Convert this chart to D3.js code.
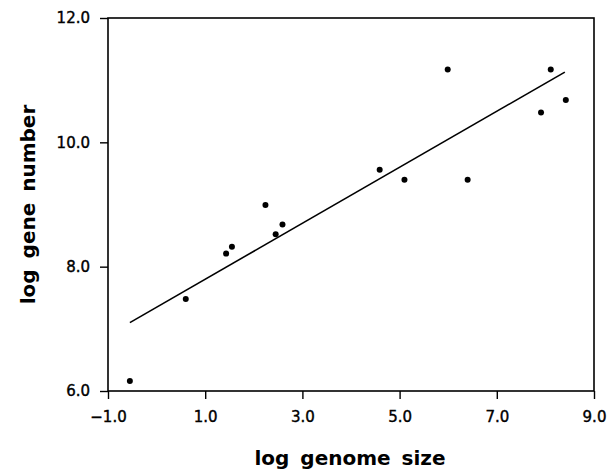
<!DOCTYPE html>
<html>
<head>
<meta charset="utf-8">
<script src="https://cdn.jsdelivr.net/npm/d3@7"></script>
<style>
  body { margin: 0; background: #fff; }
  text { font-family: "DejaVu Sans", "Liberation Sans", sans-serif; fill: #000; }
</style>
</head>
<body>
<svg width="611" height="470"></svg>
<script>
(function () {
  "use strict";
  // data
  const genomeSize = [-0.55, 0.6, 1.43, 1.55, 2.24, 2.45, 2.59, 4.59, 5.1, 6.4, 5.99, 8.11, 7.91, 8.42];
  const geneNumber = [6.16, 7.48, 8.21, 8.32, 8.99, 8.52, 8.68, 9.56, 9.4, 9.4, 11.17, 11.17, 10.48, 10.68];
  const fitX = [-0.55, 8.4];
  const fitY = [7.1, 11.13];
  const xTicks = [-1, 1, 3, 5, 7, 9];
  const yTicks = [6, 8, 10, 12];

  const svg = d3.select("svg");
  const left = 108, right = 594, top = 18, bottom = 391;

  const x = d3.scaleLinear().domain([-1, 9]).range([left, right]);
  const y = d3.scaleLinear().domain([6, 12]).range([bottom, top]);

  // frame
  svg.append("rect")
    .attr("x", left).attr("y", top)
    .attr("width", right - left).attr("height", bottom - top)
    .attr("fill", "none").attr("stroke", "#000").attr("stroke-width", 1.6);

  const xAxis = svg.append("g")
    .attr("transform", `translate(0,${bottom})`)
    .call(d3.axisBottom(x).tickValues(xTicks).tickFormat(d3.format(".1f")).tickSize(8).tickPadding(12));
  const yAxis = svg.append("g")
    .attr("transform", `translate(${left},0)`)
    .call(d3.axisLeft(y).tickValues(yTicks).tickFormat(d3.format(".1f")).tickSize(8).tickPadding(10));

  [xAxis, yAxis].forEach(a => {
    a.select(".domain").remove();
    a.selectAll("line").attr("stroke", "#000").attr("stroke-width", 1.4);
    a.selectAll("text")
      .attr("font-family", "DejaVu Sans")
      .attr("font-size", 15)
      .attr("fill", "#000")
      .attr("stroke", "#000")
      .attr("stroke-width", 0.4);
  });
  xAxis.selectAll("text").text(d => d3.format(".1f")(d).replace("-", "\u2212"));

  // regression line
  svg.append("path")
    .datum(d3.zip(fitX, fitY))
    .attr("fill", "none")
    .attr("stroke", "#000")
    .attr("stroke-width", 1.6)
    .attr("d", d3.line().x(d => x(d[0])).y(d => y(d[1])));

  svg.append("g").selectAll("circle")
    .data(d3.zip(genomeSize, geneNumber))
    .join("circle")
    .attr("cx", d => x(d[0]))
    .attr("cy", d => y(d[1]))
    .attr("r", 3)
    .attr("fill", "#000");

  svg.append("text")
    .attr("x", (left + right) / 2 - 1)
    .attr("y", 465)
    .attr("text-anchor", "middle")
    .attr("font-size", 20)
    .attr("font-weight", "bold")
    .attr("word-spacing", 4)
    .text("log genome size");

  svg.append("text")
    .attr("transform", `translate(35,${(top + bottom) / 2}) rotate(-90)`)
    .attr("text-anchor", "middle")
    .attr("font-size", 20)
    .attr("font-weight", "bold")
    .attr("word-spacing", 4)
    .text("log gene number");
})();
</script>
</body>
</html>
